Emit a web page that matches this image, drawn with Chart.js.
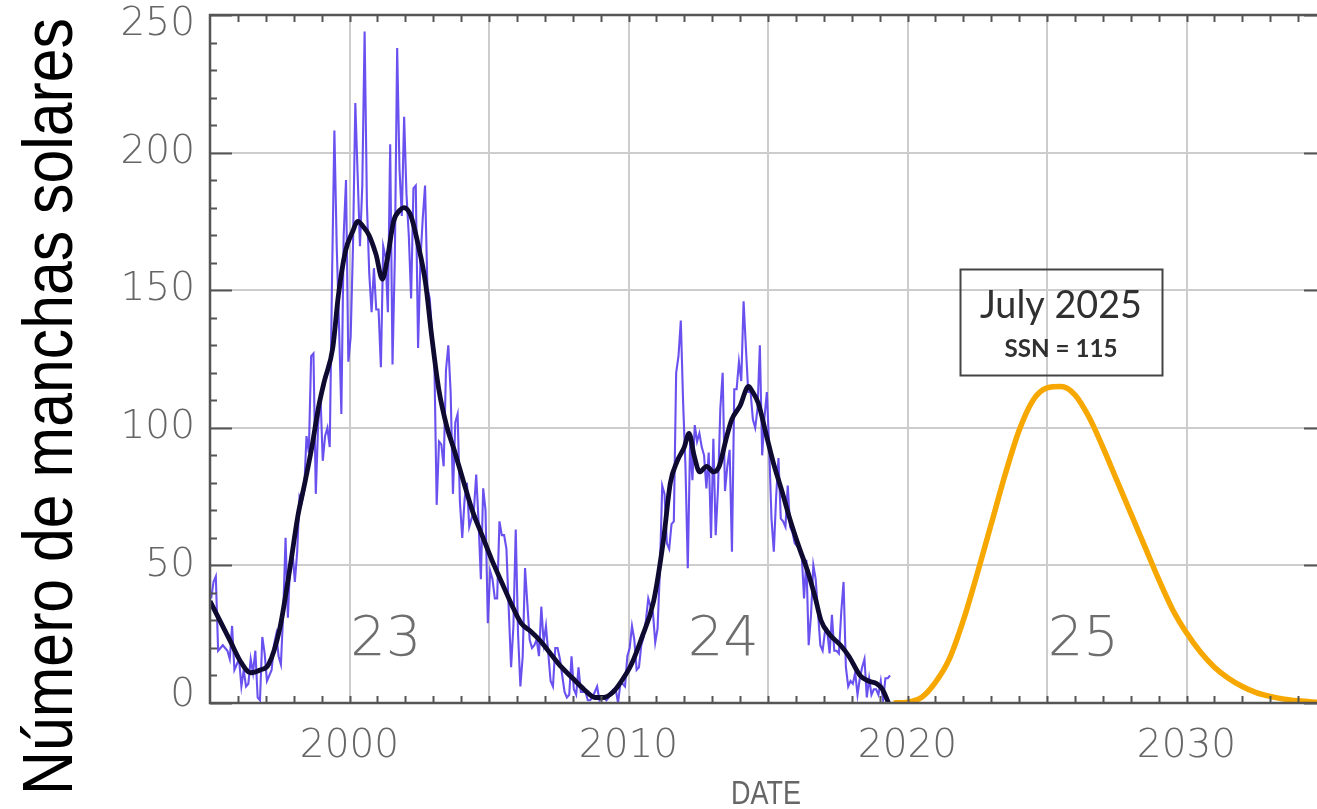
<!DOCTYPE html>
<html>
<head>
<meta charset="utf-8">
<script src="https://cdn.jsdelivr.net/npm/chart.js@4.4.1/dist/chart.umd.min.js"></script>
<style>
  html, body { margin: 0; padding: 0; background: #ffffff; overflow: hidden; }
  #wrap { width: 1332px; height: 809px; }
</style>
</head>
<body>
<div id="wrap"><canvas id="chart" width="1332" height="809"></canvas></div>
<script>
// Monthly mean sunspot number, January 1995 onwards (one row per year)
const firstYear = 1995;
const monthlySSN = [
  38, 44, 46, 19, 20, 21, 20, 19, 16, 28, 12, 14,          // 1995
  16, 6, 12, 6, 7, 16, 11, 19, 2, 1, 24, 18,               // 1996
  8, 10, 12, 21, 25, 17, 14, 33, 60, 31, 52, 55,           // 1997
  44, 55, 75, 73, 77, 97, 91, 126, 127, 76, 101, 112,      // 1998
  88, 97, 100, 93, 155, 208, 166, 137, 105, 170, 190, 124, // 1999
  133, 166, 218, 192, 166, 188, 244, 181, 156, 142, 158, 143, // 2000
  143, 122, 166, 162, 142, 203, 123, 162, 238, 194, 177, 213, // 2001
  185, 170, 147, 187, 188, 129, 161, 176, 188, 151, 147, 135, // 2002
  124, 72, 95, 94, 86, 121, 130, 113, 76, 102, 105, 73,    // 2003
  60, 74, 80, 64, 67, 70, 83, 66, 45, 78, 70, 29,          // 2004
  48, 45, 38, 38, 66, 61, 61, 56, 34, 13, 28, 63,          // 2005
  25, 6, 17, 49, 36, 23, 20, 21, 23, 17, 35, 22,           // 2006
  28, 18, 8, 6, 20, 20, 16, 10, 4, 2, 3, 17,               // 2007
  5, 3, 13, 4, 4, 4, 1, 1, 2, 4, 6, 1,                     // 2008
  2, 2, 1, 2, 4, 5, 5, 0, 7, 7, 6, 17,                     // 2009
  20, 28, 23, 12, 13, 21, 24, 30, 38, 35, 33, 22,          // 2010
  27, 48, 79, 76, 58, 56, 65, 66, 120, 126, 139, 109,      // 2011
  86, 49, 95, 81, 101, 95, 98, 93, 90, 78, 91, 60,         // 2012
  96, 61, 78, 107, 120, 77, 86, 92, 55, 114, 114, 124,     // 2013
  117, 146, 129, 113, 113, 103, 100, 107, 130, 90, 104, 113, // 2014
  93, 67, 55, 75, 89, 67, 66, 64, 79, 64, 62, 58,          // 2015
  57, 56, 54, 38, 52, 21, 32, 50, 45, 33, 21, 19,          // 2016
  26, 26, 18, 32, 19, 19, 18, 33, 44, 13, 6, 8,            // 2017
  7, 11, 3, 9, 13, 16, 2, 9, 3, 5, 5, 3,                   // 2018
  8, 1, 9, 9, 10                                           // 2019
];

// Smoothed sunspot number (dates in decimal years)
const smoothYears = [
  1995.0, 1995.4, 1995.75, 1996.1, 1996.45, 1996.8, 1997.1, 1997.5, 1997.85,
  1998.15, 1998.4, 1998.65, 1998.9, 1999.1, 1999.4, 1999.6, 1999.85,
  2000.1, 2000.3, 2000.5, 2000.7, 2000.95, 2001.18, 2001.35, 2001.58, 2001.8,
  2001.95, 2002.2, 2002.45, 2002.72, 2002.95, 2003.2, 2003.5, 2003.75,
  2004.1, 2004.4, 2004.75, 2005.1, 2005.45, 2005.8, 2006.15, 2006.5, 2006.8,
  2007.2, 2007.6, 2008.0, 2008.4, 2008.8, 2009.1, 2009.45, 2009.75,
  2010.1, 2010.45, 2010.9, 2011.25, 2011.5, 2011.75, 2012.0, 2012.17,
  2012.35, 2012.55, 2012.8, 2013.05, 2013.25, 2013.5, 2013.7, 2014.0,
  2014.3, 2014.45, 2014.65, 2014.95, 2015.2, 2015.5, 2015.75, 2016.1,
  2016.45, 2016.7, 2016.9, 2017.2, 2017.6, 2017.9, 2018.3, 2018.6,
  2018.9, 2019.1, 2019.32
];
const smoothSSN = [
  37, 29, 22, 15, 11, 12, 14, 27, 48,
  68, 80, 93, 108, 117, 129, 148, 164,
  171, 175, 173, 170, 163, 154, 161, 175, 179,
  180, 177, 167, 153, 133, 114, 100, 92,
  80, 70, 61, 52, 44, 36, 29, 26, 23,
  18, 13, 9, 5, 2, 2, 4, 8,
  14, 23, 37, 59, 80, 88, 93, 98,
  90, 84, 86, 84, 86, 96, 103, 108,
  115, 113, 109, 97, 87, 77, 68, 57,
  47, 38, 30, 25, 21, 17, 10, 8,
  7, 5, 0
];

// Predicted cycle 25
const forecastYears = [
  2019.5, 2020.0, 2020.5, 2021.0, 2021.5, 2022.0, 2022.5, 2023.0, 2023.5,
  2024.0, 2024.5, 2025.0, 2025.5, 2026.0, 2026.5, 2027.0, 2027.5, 2028.0,
  2028.5, 2029.0, 2029.5, 2030.0, 2030.5, 2031.0, 2031.5, 2032.0, 2032.5,
  2033.0, 2033.5, 2034.0, 2034.5, 2035.0
];
const forecastSSN = [
  0, 0.3, 2, 7.5, 16, 30, 47, 65, 83,
  99, 110, 114.5, 115, 112, 104, 93, 81, 69,
  57, 45, 34, 25.5, 18.5, 13, 9, 6, 3.8,
  2.4, 1.4, 0.8, 0.4, 0.2
];

// Text
const xTickLabels = [2000, 2010, 2020, 2030];
const yTickValues = [0, 50, 100, 150, 200, 250];
const cycleNumbers = ['23', '24', '25'];
const peakDate = 2025.5;
const peakSSN = 115;
const peakText = ['July 2025', 'SSN = 115'];
const yTitle = 'Número de manchas solares';
const xTitle = 'DATE';

const monthlyPoints = monthlySSN.map((v, i) => ({ x: firstYear + (i + 0.5) / 12, y: v }));
const smoothPoints = smoothYears.map((t, i) => ({ x: t, y: smoothSSN[i] }));
const forecastPoints = forecastYears.map((t, i) => ({ x: t, y: forecastSSN[i] }));

const TICK_FONT = "'DejaVu Sans', 'Liberation Sans', sans-serif";
const NARROW_FONT = "'Liberation Sans Narrow', 'Liberation Sans', 'DejaVu Sans Condensed', sans-serif";

// Draw a string centred at (cx, baseline) squeezed/stretched to a set width
function drawFitted(ctx, text, font, cx, baseline, width) {
  ctx.save();
  ctx.font = font;
  const w = ctx.measureText(text).width;
  ctx.translate(cx, baseline);
  ctx.scale(width / w, 1);
  ctx.textAlign = 'center';
  ctx.textBaseline = 'alphabetic';
  ctx.fillText(text, 0, 0);
  ctx.restore();
}

const decorations = {
  id: 'decorations',
  beforeDatasetsDraw(chart) {
    const { ctx, chartArea: a, scales: { x, y } } = chart;
    ctx.save();
    // axis numbers, placed through the scales
    ctx.fillStyle = '#666666';
    ctx.font = "200 39px " + TICK_FONT;
    ctx.textAlign = 'right';
    ctx.textBaseline = 'middle';
    yTickValues.forEach(v => {
      let py = y.getPixelForValue(v);
      if (v === 250) py += 10;      // keep the end labels inside the frame height
      if (v === 0) py -= 7;
      ctx.fillText(String(v), a.left - 15, py);
    });
    ctx.textAlign = 'center';
    ctx.textBaseline = 'alphabetic';
    xTickLabels.forEach(t => ctx.fillText(String(t), x.getPixelForValue(t), a.bottom + 54));

    // cycle numbers
    const tagYears = [2001.3, 2013.4, 2026.3];
    ctx.fillStyle = '#6e6e6e';
    ctx.font = "200 56px " + TICK_FONT;
    cycleNumbers.forEach((t, i) => ctx.fillText(t, x.getPixelForValue(tagYears[i]), y.getPixelForValue(17.5)));
    ctx.restore();
  },
  afterDatasetsDraw(chart) {
    const { ctx, chartArea: a, scales: { x, y } } = chart;
    ctx.save();
    // frame (its right side sits just past the visible window)
    ctx.strokeStyle = '#555555';
    ctx.lineWidth = 2.5;
    ctx.strokeRect(a.left, a.top, a.right - a.left, a.bottom - a.top);
    // inward ticks
    ctx.lineWidth = 2;
    ctx.beginPath();
    for (let v = 0; v <= 250; v += 10) {
      const py = Math.round(y.getPixelForValue(v)) + 0.5;
      const len = v % 50 === 0 ? 22 : 7;
      ctx.moveTo(a.left, py); ctx.lineTo(a.left + len, py);
      ctx.moveTo(a.right, py); ctx.lineTo(a.right - len, py);
    }
    for (let t = 1996; t < 2035; t++) {
      const px = Math.round(x.getPixelForValue(t)) + 0.5;
      ctx.moveTo(px, a.top); ctx.lineTo(px, a.top + 7);
      ctx.moveTo(px, a.bottom); ctx.lineTo(px, a.bottom - 7);
    }
    ctx.stroke();

    // peak annotation box
    const px = x.getPixelForValue(peakDate);
    const py = y.getPixelForValue(peakSSN);
    const bw = 202, bh = 106;
    const bottom = py - 12, top = bottom - bh;
    ctx.strokeStyle = '#444444';
    ctx.lineWidth = 2;
    ctx.strokeRect(Math.round(px - bw / 2) + 0.5, Math.round(top) + 0.5, bw, bh);
    ctx.fillStyle = '#303030';
    drawFitted(ctx, peakText[0], "400 39px Lato, 'Open Sans', sans-serif", px, top + 49, 162);
    drawFitted(ctx, peakText[1], "700 25px Lato, 'Open Sans', sans-serif", px, top + 88, 113);
    ctx.restore();
  },
  afterDraw(chart) {
    const { ctx } = chart;
    // x title
    ctx.save();
    ctx.fillStyle = '#666666';
    drawFitted(ctx, xTitle, "34px " + NARROW_FONT, 766, 804, 70);
    ctx.restore();
    // y title, rotated
    ctx.save();
    ctx.fillStyle = '#000000';
    ctx.translate(72, 406.5);
    ctx.rotate(-Math.PI / 2);
    drawFitted(ctx, yTitle, "70px " + NARROW_FONT, 0, 0, 777);
    ctx.restore();
  }
};

new Chart(document.getElementById('chart'), {
  type: 'line',
  data: {
    datasets: [
      {
        label: 'Monthly',
        data: monthlyPoints,
        borderColor: 'rgba(92, 66, 238, 0.92)',
        borderWidth: 2.1,
        pointRadius: 0,
        tension: 0,
        order: 3
      },
      {
        label: 'Smoothed',
        data: smoothPoints,
        borderColor: '#0e0a30',
        borderWidth: 4.8,
        pointRadius: 0,
        cubicInterpolationMode: 'monotone',
        order: 2
      },
      {
        label: 'Cycle 25',
        data: forecastPoints,
        borderColor: '#f6a700',
        borderWidth: 5.5,
        pointRadius: 0,
        cubicInterpolationMode: 'monotone',
        order: 1
      }
    ]
  },
  options: {
    responsive: false,
    animation: false,
    devicePixelRatio: 1,
    layout: { padding: { top: 15, right: 6, bottom: 0, left: 0 } },
    plugins: { legend: { display: false }, tooltip: { enabled: false } },
    scales: {
      x: {
        type: 'linear',
        min: 1995,
        max: 2035,
        border: { display: false },
        grid: { color: '#cdcdcd', lineWidth: 2, drawTicks: false },
        ticks: { stepSize: 5, display: false },
        afterFit: s => { s.height = 106; }
      },
      y: {
        type: 'linear',
        min: 0,
        max: 250,
        border: { display: false },
        grid: { color: '#cdcdcd', lineWidth: 2, drawTicks: false },
        ticks: { stepSize: 50, display: false },
        afterFit: s => { s.width = 210; }
      }
    }
  },
  plugins: [decorations]
});
</script>
</body>
</html>
